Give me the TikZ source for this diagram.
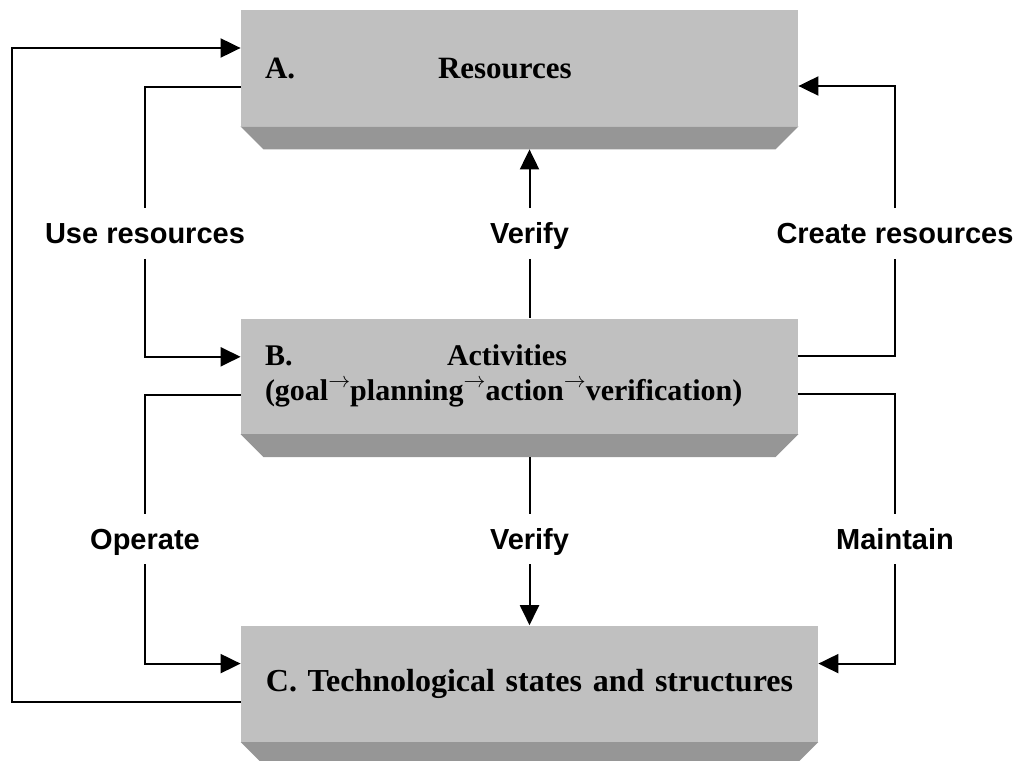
\documentclass[tikz,border=0pt]{standalone}
\usepackage{fontspec}
\setmainfont{Liberation Serif}
\setsansfont{Liberation Sans}
\usetikzlibrary{arrows.meta, positioning, calc}
\definecolor{faceGray}{RGB}{192,192,192}
\definecolor{bevelGray}{RGB}{150,150,150}
\newcommand{\goesto}{\raisebox{6.5pt}{$\scriptstyle\rightarrow$}}
\newcommand{\drawbevel}[1]{%
  \fill[bevelGray] (#1.south west) -- (#1.south east)
    -- ([shift={(-11.5pt,-11.5pt)}]#1.south east)
    -- ([shift={(11.5pt,-11.5pt)}]#1.south west) -- cycle;}

\begin{document}
\begin{tikzpicture}[
    x=0.5pt, y=-0.5pt,
    box/.style={rectangle, fill=faceGray, minimum width=278.5pt, minimum height=58pt, inner xsep=12pt, text width=254.5pt, align=left, font=\bfseries\fontsize{15.5}{17.5}\selectfont},
    link/.style={font=\sffamily\bfseries\fontsize{14.5}{14.5}\selectfont, inner sep=0pt, minimum height=25pt, text height=10.4pt, text depth=0pt},
    arrow/.style={-{Triangle[length=10pt, width=9.5pt]}, line width=1pt}
]
\useasboundingbox (0,0) rectangle (1021,760);

\node[box] (A) at (519.5,68) {\makebox[86.5pt][l]{A.}Resources};
\node[box, below=96pt of A, minimum height=57.5pt, font=\bfseries\fontsize{15}{17.5}\selectfont] (B) {\makebox[91pt][l]{B.}Activities\\(goal\goesto planning\goesto action\goesto verification)};
\node[box, below=95.5pt of B, xshift=5pt, minimum width=288.5pt, text width=264.5pt, align=center, font=\bfseries\fontsize{16}{18}\selectfont] (C) {C. Technological states and structures};
\drawbevel{A}
\drawbevel{B}
\drawbevel{C}
\coordinate (Abase) at ([yshift=-11.5pt]A.south);
\coordinate (Bbase) at ([yshift=-11.5pt]B.south);

\node[link] (use) at (145,233.5) {Use resources};
\node[link] (vup) at (C.center |- 0,233.5) {Verify};
\node[link] (create) at (895,233.5) {Create resources};
\node[link] (oper) at (145,539) {Operate};
\node[link] (vdown) at (C.center |- 0,539) {Verify};
\node[link] (maint) at (895,539) {Maintain};

% outer loop C -> A
\draw[arrow] ([yshift=-9pt]C.west) -- ++(-229,0) |- ([yshift=10pt]A.west);

\draw[line width=1pt] ([yshift=-9.5pt]A.west) -| (use.north);
\draw[arrow] (use.south) |- ([yshift=9.75pt]B.west);

\draw[line width=1pt] (vup.south) -- (vup.south |- B.north);
\draw[arrow] (vup.north) -- (vup.north |- Abase);

\draw[line width=1pt] ([yshift=10.25pt]B.east) -| (create.south);
\draw[arrow] (create.north) |- ([yshift=-9pt]A.east);

\draw[line width=1pt] ([yshift=-9.25pt]B.west) -| (oper.north);
\draw[arrow] (oper.south) |- ([yshift=10pt]C.west);

\draw[line width=1pt] (vdown.north) -- (vdown.north |- Bbase);
\draw[arrow] (vdown.south) -- (vdown.south |- C.north);

\draw[line width=1pt] ([yshift=-8.75pt]B.east) -| (maint.north);
\draw[arrow] (maint.south) |- ([yshift=10pt]C.east);

\end{tikzpicture}
\end{document}
